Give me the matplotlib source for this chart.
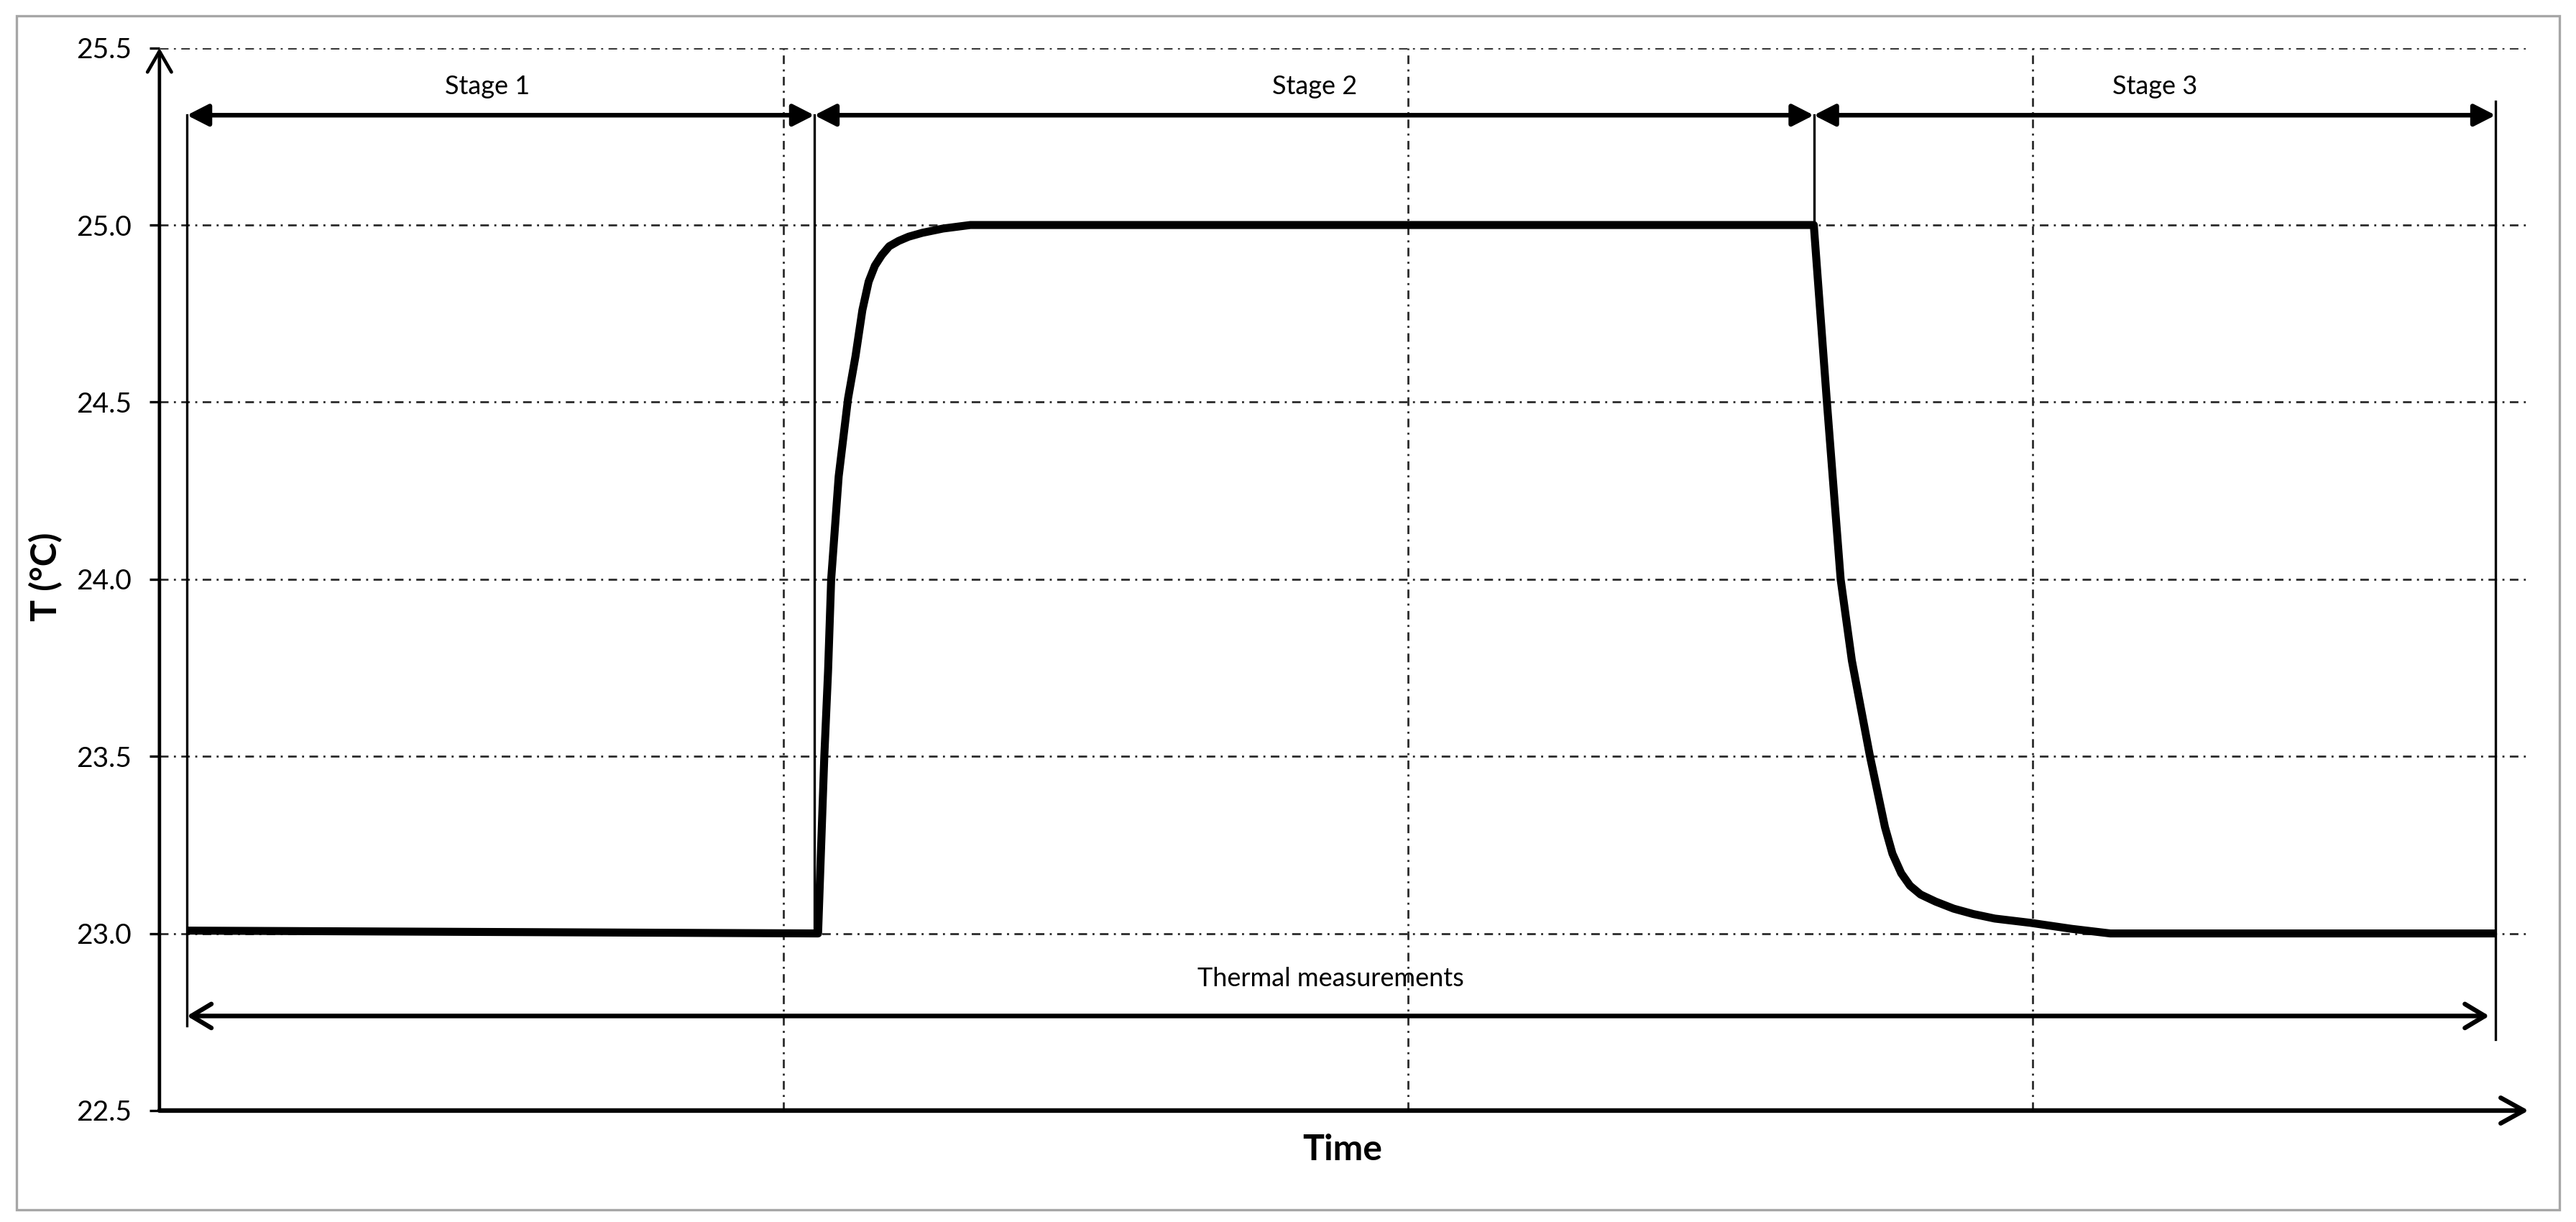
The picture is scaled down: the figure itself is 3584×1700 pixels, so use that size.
import matplotlib.pyplot as plt
from matplotlib.patches import Rectangle

# temperature curve (time in arbitrary units, grid step = 100)
time_vals = [4.4, 105.5, 106.5, 107.1, 107.6, 108.8, 110.3, 111.5, 112.6, 113.6,
             114.6, 115.7, 116.9, 118.4, 120.0, 122.2, 125.5, 129.9, 265.0, 267.1,
             269.3, 271.1, 274.0, 276.4, 277.6, 279.0, 280.4, 282.1, 284.5, 287.4,
             290.5, 294.0, 299.7, 306.3, 312.5, 374.2]
temp_vals = [23.008, 23.0, 23.5, 23.74, 24.0, 24.29, 24.51, 24.63, 24.76, 24.84,
             24.885, 24.915, 24.94, 24.955, 24.967, 24.978, 24.99, 25.0, 25.0, 24.50,
             24.0, 23.77, 23.50, 23.30, 23.225, 23.17, 23.135, 23.11, 23.09, 23.07,
             23.055, 23.042, 23.03, 23.013, 23.0, 23.0]

# stage boundaries and labels
stage_edges = [4.4, 104.9, 265.0, 374.2]
stage_names = ['Stage 1', 'Stage 2', 'Stage 3']
stage_text_x = [52.5, 185.0, 319.6]

y_ticks = [22.5, 23.0, 23.5, 24.0, 24.5, 25.0, 25.5]
x_grid = [100, 200, 300]

FONT = 'Lato'
GRID_LS = (0, (4.3, 2.7, 1.0, 2.7))


def arrow(ax, x0, y0, x1, y1, style, lw, coords='data'):
    ax.annotate('', xy=(x1, y1), xytext=(x0, y0), xycoords=coords, textcoords=coords,
                arrowprops=dict(arrowstyle=style, lw=lw, color='black',
                                shrinkA=0, shrinkB=0, mutation_scale=20),
                annotation_clip=False)


def graph():
    fig = plt.figure(figsize=(17.92, 8.5), dpi=200)
    ax = fig.add_axes([0.0619, 0.0912, 0.9197, 0.8696])

    # outer grey frame
    fig.patches.append(Rectangle((0.0064, 0.0100), 0.9872, 0.977, transform=fig.transFigure,
                                 fill=False, ec='#a6a6a6', lw=1.2))

    ax.set_xlim(0, 379.5)
    ax.set_ylim(22.5, 25.5)
    for s in ax.spines.values():
        s.set_visible(False)

    ax.set_yticks(y_ticks)
    ax.set_yticklabels(['%.1f' % v for v in y_ticks], fontsize=14, family=FONT)
    ax.tick_params(axis='y', length=5, width=1.2, pad=9, direction='out')
    ax.set_xticks(x_grid)
    ax.set_xticklabels([])
    ax.tick_params(axis='x', length=0)

    # dash-dot grid
    for y in y_ticks[1:]:
        ax.axhline(y, color='#2b2b2b', lw=1.0, ls=GRID_LS, zorder=1)
    for x in x_grid:
        ax.axvline(x, color='#2b2b2b', lw=1.0, ls=GRID_LS, zorder=1)

    # axes arrows
    arrow(ax, 0, 0, 0, 1, '->,head_length=0.52,head_width=0.3', 1.7, 'axes fraction')
    arrow(ax, 0, 0, 1, 0, '->,head_length=0.58,head_width=0.32', 2.3, 'axes fraction')

    # thin vertical markers
    ax.plot([stage_edges[0]] * 2, [25.31, 22.74], color='black', lw=1.2, zorder=2)
    ax.plot([stage_edges[1]] * 2, [25.31, 23.0], color='black', lw=1.2, zorder=2)
    ax.plot([stage_edges[2]] * 2, [25.31, 25.0], color='black', lw=1.2, zorder=2)
    ax.plot([stage_edges[3]] * 2, [25.35, 22.70], color='black', lw=1.2, zorder=2)

    # stage arrows and labels
    for i in range(len(stage_names)):
        arrow(ax, stage_edges[i], 25.31, stage_edges[i + 1], 25.31,
              '<|-|>,head_length=0.45,head_width=0.23', 2.3)
        ax.text(stage_text_x[i], 25.37, stage_names[i], ha='center', va='baseline',
                fontsize=13, family=FONT)

    # thermal measurements arrow
    arrow(ax, stage_edges[0], 22.767, stage_edges[3] - 1.0, 22.767,
          '<->,head_length=0.5,head_width=0.3', 2.3)
    ax.text(187.6, 22.85, 'Thermal measurements', ha='center', va='baseline',
            fontsize=13, family=FONT)

    # temperature curve
    ax.plot(time_vals, temp_vals, color='black', lw=4.0, solid_joinstyle='round',
            solid_capstyle='butt', zorder=4)

    fig.text(0.0176, 0.528, 'T (°C)', rotation=90, ha='center', va='center',
             fontsize=18, fontweight='bold', family=FONT)
    fig.text(0.521, 0.059, 'Time', ha='center', va='center',
             fontsize=18, fontweight='bold', family=FONT)

    fig.savefig('out.png', dpi=200)


def main():
    graph()


if __name__ == '__main__':
    main()
